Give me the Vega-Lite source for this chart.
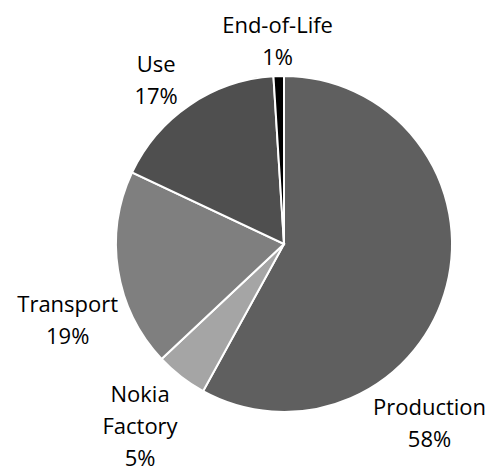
{
  "$schema": "https://vega.github.io/schema/vega-lite/v6.json",
  "width": 436,
  "height": 448,
  "autosize": "none",
  "padding": {"left": 66, "top": 20, "right": 0, "bottom": 0},
  "background": "white",
  "view": {"stroke": null},
  "data": {
    "values": [
      {"cat": "Production", "pct": 58, "idx": 1, "label": ["Production", "58%"]},
      {"cat": "Nokia Factory", "pct": 5, "idx": 2, "label": ["Nokia", "Factory", "5%"]},
      {"cat": "Transport", "pct": 19, "idx": 3, "label": ["Transport", "19%"]},
      {"cat": "Use", "pct": 17, "idx": 4, "label": ["Use", "17%"]},
      {"cat": "End-of-Life", "pct": 1, "idx": 5, "label": ["End-of-Life", "1%"]}
    ]
  },
  "encoding": {
    "theta": {"field": "pct", "type": "quantitative", "stack": true},
    "order": {"field": "idx", "type": "quantitative"}
  },
  "layer": [
    {
      "mark": {"type": "arc", "outerRadius": 168, "stroke": "white", "strokeWidth": 2},
      "encoding": {
        "color": {
          "field": "cat",
          "type": "nominal",
          "scale": {
            "domain": ["Production", "Nokia Factory", "Transport", "Use", "End-of-Life"],
            "range": ["#5f5f5f", "#a5a5a5", "#7f7f7f", "#4f4f4f", "#000000"]
          },
          "legend": null
        }
      }
    },
    {
      "mark": {"type": "text", "radius": 205, "dx": 0, "dy": -13, "font": "Open Sans", "fontSize": 22, "lineHeight": 32, "color": "black", "align": "center", "baseline": "middle"},
      "encoding": {"text": {"condition": {"test": "datum.cat === 'End-of-Life'", "field": "label"}, "value": ""}}
    },
    {
      "mark": {"type": "text", "radius": 208, "dx": -11, "dy": -7, "font": "Open Sans", "fontSize": 22, "lineHeight": 32, "color": "black", "align": "center", "baseline": "middle"},
      "encoding": {"text": {"condition": {"test": "datum.cat === 'Use'", "field": "label"}, "value": ""}}
    },
    {
      "mark": {"type": "text", "radius": 219, "dy": 27, "font": "Open Sans", "fontSize": 22, "lineHeight": 32, "color": "black", "align": "center", "baseline": "middle"},
      "encoding": {"text": {"condition": {"test": "datum.cat === 'Transport'", "field": "label"}, "value": ""}}
    },
    {
      "mark": {"type": "text", "radius": 230, "dx": -3, "dy": -31, "font": "Open Sans", "fontSize": 22, "lineHeight": 32, "color": "black", "align": "center", "baseline": "middle"},
      "encoding": {"text": {"condition": {"test": "datum.cat === 'Nokia Factory'", "field": "label"}, "value": ""}}
    },
    {
      "mark": {"type": "text", "radius": 175, "dx": -24, "dy": 120, "font": "Open Sans", "fontSize": 22, "lineHeight": 32, "color": "black", "align": "center", "baseline": "middle"},
      "encoding": {"text": {"condition": {"test": "datum.cat === 'Production'", "field": "label"}, "value": ""}}
    }
  ]
}
